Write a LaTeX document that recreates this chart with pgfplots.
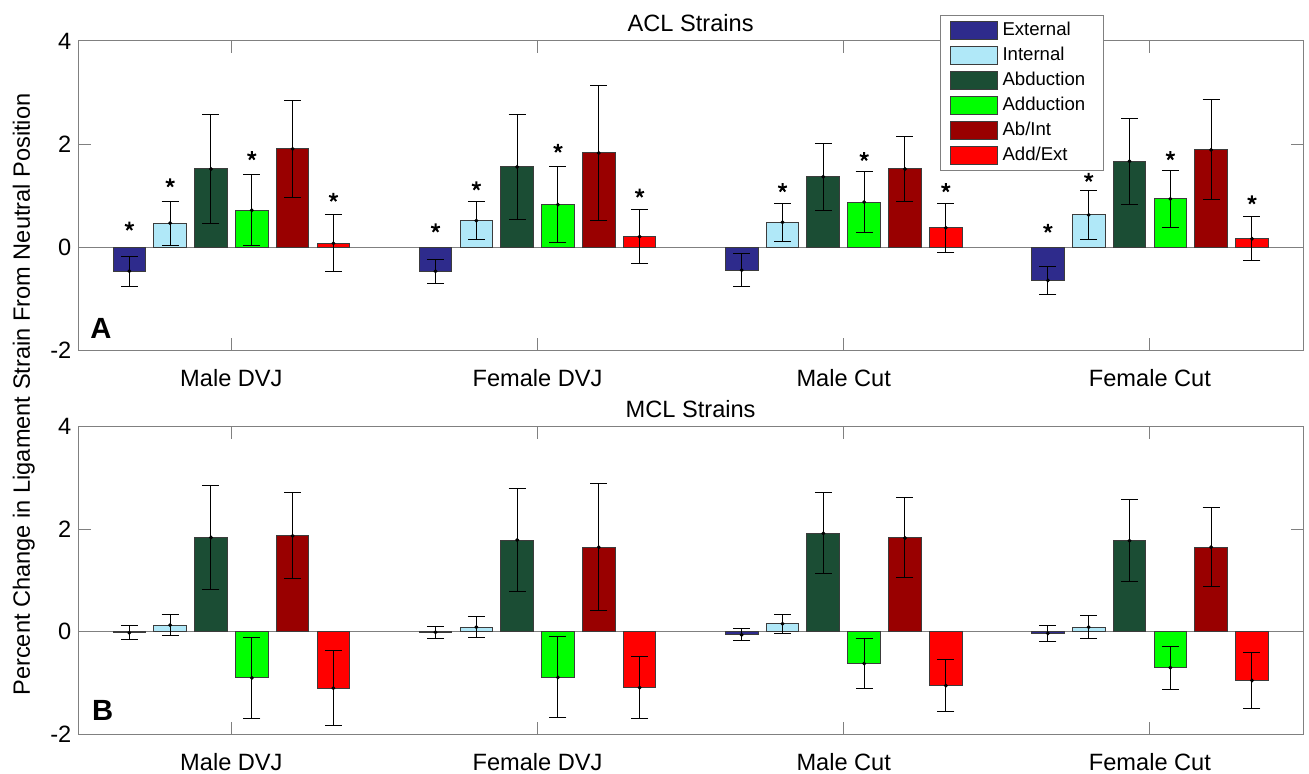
\documentclass[border=0pt]{standalone}
\usepackage{fontspec}
\setmainfont{Liberation Sans}
\usepackage{pgfplots}
\pgfplotsset{compat=1.18}
\definecolor{cExt}{RGB}{46,43,140}
\definecolor{cInt}{RGB}{176,232,248}
\definecolor{cAbd}{RGB}{27,77,52}
\definecolor{cAdd}{RGB}{0,255,0}
\definecolor{cAbI}{RGB}{153,0,0}
\definecolor{cAdE}{RGB}{255,0,0}
\definecolor{axgray}{RGB}{128,128,128}
\definecolor{edgegray}{RGB}{60,60,60}
\newcommand{\fsz}{\fontsize{11.8pt}{14pt}\selectfont}
\newcommand{\LE}[1]{\makebox[45.7pt][l]{#1}}
\pgfplotsset{
  panel/.style={
    scale only axis, width=612.35pt,
    xmin=0.5, xmax=4.5, ymin=-2, ymax=4,
    xtick={1,2,3,4}, xticklabels={Male DVJ, Female DVJ, Male Cut, Female Cut},
    ytick={-2,0,2,4}, yticklabels={-2,0,2,4},
    tick align=inside, xtick pos=both, ytick pos=both,
    xticklabel pos=lower, yticklabel pos=left,
    major tick length=6.15pt,
    axis line style={draw=axgray, line width=0.5pt},
    every tick/.style={draw=axgray, line width=0.5pt},
    tick label style={font=\fsz, text=black},
    xticklabel style={anchor=base, yshift=-18pt},
    title style={at={(0.5,1)}, anchor=base, yshift=-1.35pt, font=\fsz},
  },
  bs/.style={ybar, bar width=0.1067, bar shift=0, fill=#1, draw=edgegray, line width=0.5pt,
    mark=*, mark size=0.7pt, mark options={black, fill=black},
    error bars/.cd, y dir=both, y explicit,
    error bar style={line width=0.5pt, black},
    error mark options={rotate=90, black, line width=0.5pt, mark size=4.25pt}},
  stars/.style={only marks, mark=star, mark size=2.3pt, mark options={line width=1pt, black}, forget plot},
}
\begin{document}
\begin{tikzpicture}
\useasboundingbox (-39.15pt,20.5pt) rectangle (615.35pt,-366.5pt);
\begin{axis}[panel, height=154.85pt, at={(0pt,0pt)}, anchor=north west,
  title={ACL Strains},
  legend image code/.code={\draw[#1, draw=edgegray, line width=0.5pt] (0pt,-4.675pt) rectangle (23.35pt,4.675pt);},
  legend cell align=left,
  legend style={at={(0.7036,1.084)}, anchor=north west, draw=axgray, line width=0.5pt, fill=white,
    font=\fontsize{9.3pt}{11pt}\selectfont, inner xsep=4.65pt, inner ysep=1.25pt, row sep=0pt, column sep=2.5pt,
    nodes={inner sep=0pt, minimum height=12.5pt}},
]
\addplot[axgray, line width=0.5pt, forget plot] coordinates {(0.5,0) (4.5,0)};
\addplot[bs=cExt] table[row sep=\\, x=x, y=y, y error=e] {x y e \\ 0.6667 -0.46 0.29 \\ 1.6667 -0.46 0.23 \\ 2.6667 -0.44 0.32 \\ 3.6667 -0.64 0.28 \\};
\addplot[bs=cInt] table[row sep=\\, x=x, y=y, y error=e] {x y e \\ 0.8 0.47 0.43 \\ 1.8 0.52 0.37 \\ 2.8 0.49 0.37 \\ 3.8 0.63 0.48 \\};
\addplot[bs=cAbd] table[row sep=\\, x=x, y=y, y error=e] {x y e \\ 0.9333 1.52 1.05 \\ 1.9333 1.56 1.02 \\ 2.9333 1.37 0.65 \\ 3.9333 1.67 0.83 \\};
\addplot[bs=cAdd] table[row sep=\\, x=x, y=y, y error=e] {x y e \\ 1.0667 0.72 0.69 \\ 2.0667 0.83 0.74 \\ 3.0667 0.88 0.59 \\ 4.0667 0.94 0.55 \\};
\addplot[bs=cAbI] table[row sep=\\, x=x, y=y, y error=e] {x y e \\ 1.2 1.91 0.94 \\ 2.2 1.83 1.31 \\ 3.2 1.52 0.63 \\ 4.2 1.89 0.97 \\};
\addplot[bs=cAdE] table[row sep=\\, x=x, y=y, y error=e] {x y e \\ 1.3333 0.08 0.55 \\ 2.3333 0.21 0.53 \\ 3.3333 0.38 0.47 \\ 4.3333 0.17 0.43 \\};
\addplot[stars] coordinates {(0.6667,0.41) (0.8,1.25) (1.0667,1.775) (1.3333,0.97)
  (1.6667,0.375) (1.8,1.19) (2.0667,1.92) (2.3333,1.05)
  (2.8,1.155) (3.0667,1.76) (3.3333,1.155)
  (3.6667,0.37) (3.8,1.355) (4.0667,1.775) (4.3333,0.92)};
\legend{\LE{External},\LE{Internal},\LE{Abduction},\LE{Adduction},\LE{Ab/Int},\LE{Add/Ext}}
\node[anchor=base west, inner sep=0pt, font=\bfseries\fontsize{14.6pt}{16pt}\selectfont] at (rel axis cs:0.0096,0.040) {A};
\end{axis}
\begin{axis}[panel, height=153.8pt, at={(0pt,-192.85pt)}, anchor=north west,
  title={MCL Strains},
]
\addplot[axgray, line width=0.5pt, forget plot] coordinates {(0.5,0) (4.5,0)};
\addplot[bs=cExt] table[row sep=\\, x=x, y=y, y error=e] {x y e \\ 0.6667 -0.02 0.14 \\ 1.6667 -0.01 0.12 \\ 2.6667 -0.06 0.12 \\ 3.6667 -0.03 0.155 \\};
\addplot[bs=cInt] table[row sep=\\, x=x, y=y, y error=e] {x y e \\ 0.8 0.13 0.20 \\ 1.8 0.09 0.20 \\ 2.8 0.156 0.18 \\ 3.8 0.09 0.22 \\};
\addplot[bs=cAbd] table[row sep=\\, x=x, y=y, y error=e] {x y e \\ 0.9333 1.84 1.01 \\ 1.9333 1.79 1.00 \\ 2.9333 1.92 0.79 \\ 3.9333 1.775 0.80 \\};
\addplot[bs=cAdd] table[row sep=\\, x=x, y=y, y error=e] {x y e \\ 1.0667 -0.90 0.79 \\ 2.0667 -0.89 0.79 \\ 3.0667 -0.62 0.49 \\ 4.0667 -0.70 0.42 \\};
\addplot[bs=cAbI] table[row sep=\\, x=x, y=y, y error=e] {x y e \\ 1.2 1.87 0.84 \\ 2.2 1.65 1.24 \\ 3.2 1.83 0.78 \\ 4.2 1.65 0.77 \\};
\addplot[bs=cAdE] table[row sep=\\, x=x, y=y, y error=e] {x y e \\ 1.3333 -1.10 0.73 \\ 2.3333 -1.09 0.61 \\ 3.3333 -1.05 0.50 \\ 4.3333 -0.95 0.54 \\};
\node[anchor=base west, inner sep=0pt, font=\bfseries\fontsize{14.6pt}{16pt}\selectfont] at (rel axis cs:0.011,0.046) {B};
\end{axis}
\node[rotate=90, anchor=base, font=\fsz] at (-24.15pt,-176.75pt) {Percent Change in Ligament Strain From Neutral Position};
\end{tikzpicture}
\end{document}
